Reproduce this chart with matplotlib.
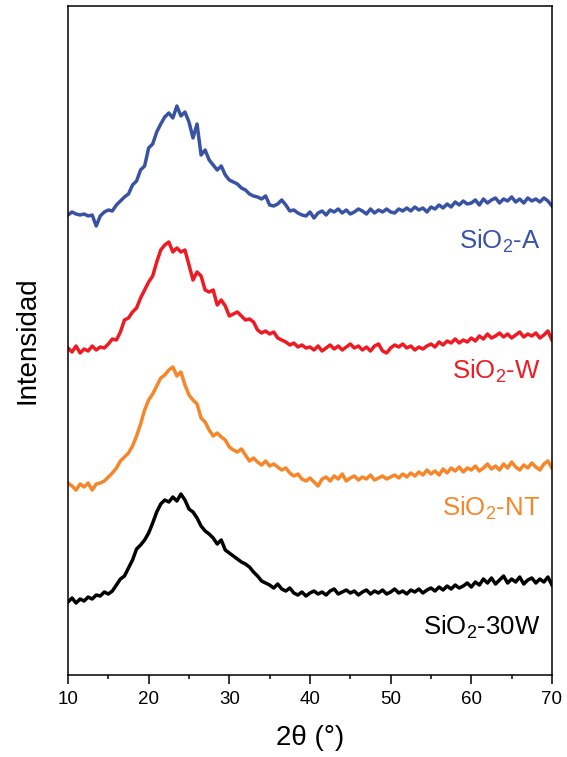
import matplotlib
matplotlib.use("Agg")
import matplotlib.pyplot as plt
import numpy as np
from matplotlib.ticker import MultipleLocator

plt.rcParams['font.family'] = ['Liberation Sans', 'DejaVu Sans']
plt.rcParams['mathtext.fontset'] = 'custom'
plt.rcParams['mathtext.rm'] = 'Liberation Sans'
plt.rcParams['mathtext.it'] = 'Liberation Sans'

# XRD patterns, 2theta from 10 to 70 deg every 0.5 deg (intensity a.u.)
samples = ['SiO$_2$-A', 'SiO$_2$-W', 'SiO$_2$-NT', 'SiO$_2$-30W']
colors = ['#3953a4', '#ed1c24', '#f7862a', '#000000']
offsets = [445, 320, 183, 70]
label_y = [434, 304, 167, 48]

sio2_a = [15, 18, 16, 15, 16, 14, 15, 4, 14, 18, 20, 19, 25, 29, 33, 36, 45, 49, 60, 64,
          82, 86, 98, 106, 113, 117, 112, 124, 114, 118, 108, 92, 106, 75, 80, 70, 65, 60, 64, 55,
          50, 48, 46, 42, 40, 36, 34, 33, 31, 34, 25, 24, 26, 30, 25, 19, 20, 17, 15, 14,
          18, 12, 17, 19, 15, 20, 18, 21, 17, 20, 16, 18, 21, 19, 16, 21, 17, 20, 18, 21,
          18, 17, 21, 19, 22, 19, 23, 20, 22, 18, 23, 21, 25, 22, 26, 23, 28, 25, 29, 26,
          27, 30, 25, 31, 27, 30, 32, 27, 31, 29, 33, 28, 31, 27, 32, 29, 31, 28, 32, 29,
          24]
sio2_w = [7, 3, 9, 2, 6, 4, 9, 5, 8, 7, 11, 16, 15, 23, 35, 37, 43, 47, 57, 65,
          73, 79, 93, 105, 110, 113, 103, 107, 103, 105, 90, 75, 83, 79, 65, 63, 65, 50, 55, 49,
          39, 41, 43, 39, 35, 36, 33, 25, 22, 24, 21, 23, 17, 15, 13, 10, 12, 8, 10, 7,
          8, 5, 9, 4, 7, 10, 6, 9, 5, 8, 11, 7, 9, 5, 8, 4, 9, 11, 4, 2,
          7, 10, 8, 11, 7, 9, 5, 8, 6, 9, 11, 8, 13, 10, 14, 12, 16, 12, 15, 13,
          17, 14, 19, 16, 21, 17, 19, 22, 18, 21, 17, 20, 23, 18, 21, 19, 22, 17, 20, 24,
          15]
sio2_nt = [9, 6, 2, 8, 5, 9, 2, 8, 9, 11, 15, 19, 24, 31, 35, 39, 46, 56, 68, 82,
           92, 98, 106, 114, 117, 122, 125, 116, 120, 107, 97, 92, 88, 74, 70, 62, 56, 59, 55, 52,
           45, 42, 40, 43, 37, 31, 34, 30, 27, 31, 26, 28, 25, 22, 24, 19, 16, 18, 13, 11,
           14, 10, 6, 13, 15, 11, 16, 13, 18, 11, 14, 16, 12, 15, 13, 17, 12, 14, 16, 13,
           15, 17, 14, 18, 15, 19, 16, 20, 17, 22, 18, 21, 17, 23, 19, 24, 21, 25, 20, 24,
           22, 26, 21, 24, 28, 23, 26, 22, 28, 24, 30, 25, 22, 27, 24, 29, 25, 22, 28, 31,
           24]
sio2_30w = [3, 7, 2, 6, 4, 8, 6, 10, 9, 13, 11, 14, 20, 26, 29, 37, 45, 56, 60, 65,
            72, 82, 93, 101, 105, 103, 108, 104, 111, 105, 96, 93, 87, 79, 74, 71, 67, 61, 65, 55,
            52, 49, 46, 43, 41, 38, 33, 29, 24, 22, 20, 17, 21, 16, 14, 17, 12, 10, 13, 9,
            12, 14, 11, 13, 10, 14, 16, 11, 13, 15, 12, 14, 10, 13, 15, 11, 14, 12, 15, 11,
            13, 16, 12, 14, 11, 15, 13, 16, 12, 15, 17, 14, 18, 15, 19, 16, 20, 17, 19, 22,
            18, 23, 20, 26, 22, 27, 21, 25, 29, 22, 26, 23, 28, 21, 25, 27, 22, 26, 23, 28,
            20]
patterns = [sio2_a, sio2_w, sio2_nt, sio2_30w]

fig = plt.figure(figsize=(5.67, 7.57), dpi=100)
ax = fig.add_axes([0.1199, 0.1083, 0.8536, 0.8838])

for name, vals, off, ly, col in zip(samples, patterns, offsets, label_y, colors):
    vals = np.array(vals)
    two_theta = np.linspace(10, 70, len(vals))
    ax.plot(two_theta, vals + off, color=col, lw=2.5, solid_joinstyle='round')
    ax.text(68.6, ly, name, color=col, fontsize=18.5, ha='right', va='center')

ax.set_xlim(10, 70)
ax.set_ylim(0, 669)
ax.xaxis.set_major_locator(MultipleLocator(10))
ax.xaxis.set_minor_locator(MultipleLocator(5))
ax.tick_params(axis='x', which='major', direction='out', length=6.5, width=1.1, labelsize=13.5, pad=5)
ax.tick_params(axis='x', which='minor', direction='out', length=3, width=1.1)
ax.set_yticks([])
for sp in ax.spines.values():
    sp.set_linewidth(1.1)

ax.set_xlabel('2θ (°)', fontsize=20, labelpad=12)
ax.set_ylabel('Intensidad', fontsize=20, labelpad=20)

plt.savefig('out.png', dpi=100)
